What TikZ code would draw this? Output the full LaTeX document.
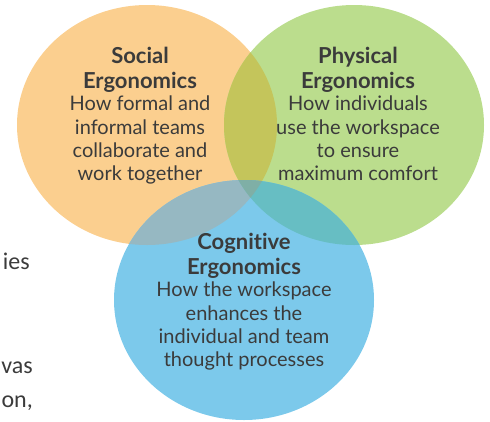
\documentclass[tikz,border=0pt]{standalone}
\usepackage{fontspec}
\setmainfont{Lato}[Ligatures=NoCommon]
\newfontfamily\pagefont{Carlito}
\usetikzlibrary{positioning}

\definecolor{socialfill}{HTML}{FBCF8F}
\definecolor{physicalfill}{HTML}{BBDD8D}
\definecolor{cognitivefill}{HTML}{7CC9EB}
\definecolor{spfill}{HTML}{C4C55B}
\definecolor{scfill}{HTML}{96B8C2}
\definecolor{pcfill}{HTML}{67BEC3}
\definecolor{allfill}{HTML}{7FAFA6}
\definecolor{inktext}{HTML}{3B3B3B}

\def\socialarea{(147,125) ellipse [x radius=130, y radius=120]}
\def\physicalarea{(354,125) ellipse [x radius=130, y radius=120]}
\def\cognitivearea{(244,300) ellipse [x radius=130, y radius=120]}

\begin{document}
\begin{tikzpicture}[x=1pt,y=-1pt,
    head/.style={align=center, text=inktext, inner sep=0pt,
      font=\fontsize{22}{25}\selectfont\bfseries},
    body/.style={align=center, text=inktext, inner sep=0pt,
      font=\fontsize{20}{23.3}\selectfont},
    pagetext/.style={text=inktext, inner sep=0pt, anchor=base east,
      font={\fontsize{24}{34}\pagefont}}]
    \useasboundingbox (0,0) rectangle (490,421);

    % the three areas
    \fill[socialfill] \socialarea;
    \fill[physicalfill] \physicalarea;
    \fill[cognitivefill] \cognitivearea;

    % overlaps
    \begin{scope}
      \clip \socialarea;
      \fill[spfill] \physicalarea;
      \fill[scfill] \cognitivearea;
    \end{scope}
    \begin{scope}
      \clip \physicalarea;
      \fill[pcfill] \cognitivearea;
    \end{scope}
    \begin{scope}
      \clip \socialarea;
      \clip \physicalarea;
      \fill[allfill] \cognitivearea;
    \end{scope}

    % labels
    \node[head] (socialhead) at (140,70) {Social\\Ergonomics};
    \node[body, below=3pt of socialhead] (socialbody)
      {How formal and\\informal teams\\collaborate and\\work together};

    \node[head] (physicalhead) at (358,70) {Physical\\Ergonomics};
    \node[body, below=3pt of physicalhead] (physicalbody)
      {How individuals\\use the workspace\\to ensure\\maximum comfort};

    \node[head] (cognitivehead) at (244,256) {Cognitive\\Ergonomics};
    \node[body, below=3pt of cognitivehead] (cognitivebody)
      {How the workspace\\enhances the\\individual and team\\thought processes};

    % text of the page behind
    \node[pagetext] (pageA) at (30,269) {ies};
    \node[pagetext] (pageB) at (33,373) {vas};
    \node[pagetext] (pageC) at (33,407) {on,};
\end{tikzpicture}
\end{document}
